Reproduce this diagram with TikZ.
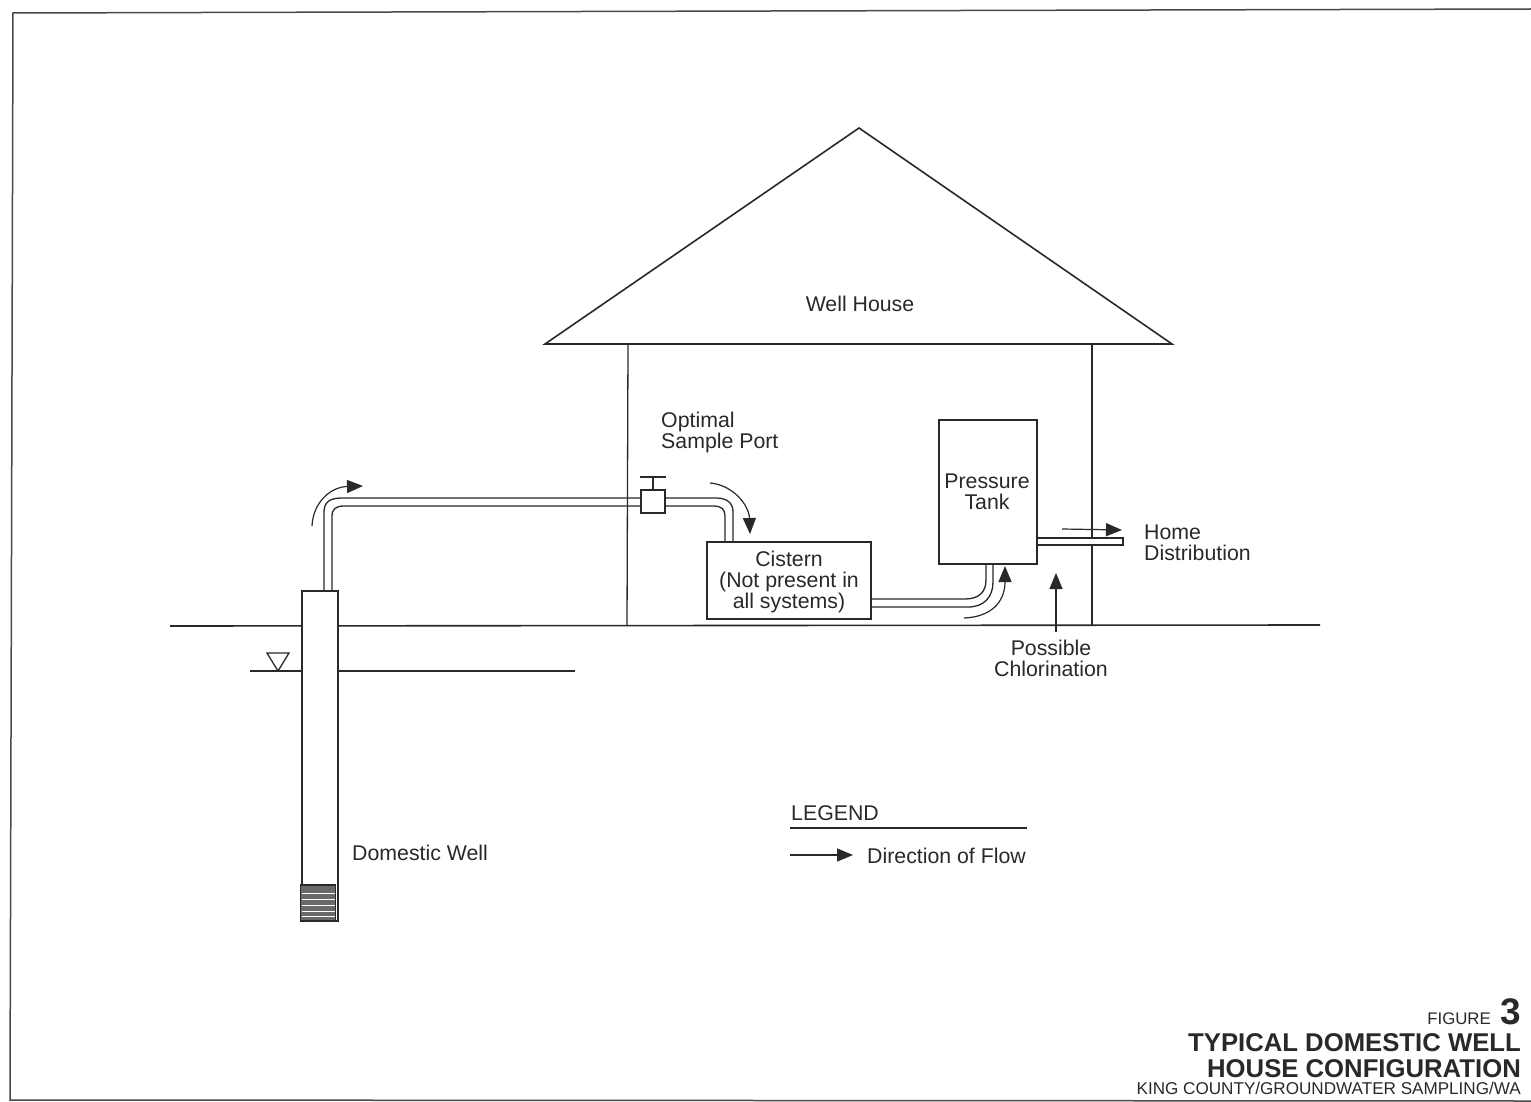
\documentclass[tikz,border=0pt]{standalone}
\usepackage{fontspec}
\setmainfont{Liberation Sans}
\usetikzlibrary{arrows.meta}
\definecolor{ink}{gray}{0.16}
\tikzset{
  ln/.style={draw=ink,line width=1.6pt},
  thin ln/.style={draw=ink,line width=1.3pt},
  flow/.style={draw=ink,line width=1.2pt,-{Triangle[length=16pt,width=13pt]}},
  lab/.style={text=ink,font=\fontsize{21.3}{22}\selectfont,align=center,inner sep=0pt},
  labl/.style={lab,anchor=west,align=left},
  box/.style={draw=ink,line width=1.3pt,fill=white,inner sep=0pt,outer sep=0pt,anchor=north west},
}
\begin{document}
\begin{tikzpicture}[x=1pt,y=-1pt]
\useasboundingbox (0,0) rectangle (1531,1102);
\fill[white] (0,0) rectangle (1531,1102);
% frame
\draw[draw=ink!85,line width=1.5pt] (1531,9) -- (13,13) -- (10,1100) -- (1531,1101);
% ground and water table
\coordinate (gL) at (170,626); \coordinate (gR) at (1320,625);
\coordinate (wL) at (250,671); \coordinate (wR) at (575,671);
\draw[ln] (gL) -- (gR);
\draw[thin ln] (wL) -- (wR);
\coordinate (tri1) at (267,653); \coordinate (tri2) at (289,653); \coordinate (tri3) at (278,671);
\draw[thin ln] (tri1) -- (tri2) -- (tri3) -- cycle;
% house
\coordinate (apex) at (859,128); \coordinate (eaveL) at (545,344); \coordinate (eaveR) at (1172,344);
\draw[ln,line join=miter] (eaveL) -- (apex) -- (eaveR) -- cycle;
\coordinate (wallLb) at (627,626); \coordinate (wallLt) at (628,344);
\coordinate (wallRb) at (1092,626); \coordinate (wallRt) at (1092,344);
\draw[thin ln] (wallLt) -- (wallLb);
\draw[thin ln] (wallRt) -- (wallRb);
% well
\node[box,minimum width=36pt,minimum height=330pt] (well) at (302,591) {};
\node[draw=ink,line width=1.4pt,fill=ink!70,inner sep=0pt,outer sep=0pt,anchor=north west,minimum width=35pt,minimum height=36pt] (screen) at (300.5,885) {};
\foreach \yy in {893,899,905,911,916}
  \draw[white,line width=1pt] (301.5,\yy) -- (335,\yy);
% cistern, tank, valve
\node[box,minimum width=164pt,minimum height=77pt] (cistern) at (707,542) {};
\node[box,minimum width=98pt,minimum height=144pt] (tank) at (939,420) {};
% pipes
\coordinate (p1a) at (324,591); \coordinate (p1b) at (332,591);
\coordinate (p2a) at (641,498); \coordinate (p2b) at (641,506);
\draw[thin ln] (p1a) -- (324,512) .. controls (324,502) and (330,498) .. (342,498) -- (p2a);
\draw[thin ln] (p1b) -- (332,516) .. controls (332,509) and (336,506) .. (344,506) -- (p2b);
\coordinate (p3a) at (665,498); \coordinate (p3b) at (665,506);
\coordinate (p4a) at (733,542); \coordinate (p4b) at (725,542);
\draw[thin ln] (p3a) -- (716,498) .. controls (727,498) and (733,503) .. (p4a |- 0,512) -- (p4a);
\draw[thin ln] (p3b) -- (714,506) .. controls (721,506) and (725,509) .. (p4b |- 0,516) -- (p4b);
\node[box,minimum width=24pt,minimum height=23pt] (valve) at (641,490) {};
\coordinate (stem) at (653,477); \coordinate (barL) at (640,477); \coordinate (barR) at (666,477);
\draw[thin ln] (valve.north) -- (stem);
\draw[ln] (barL) -- (barR);
\coordinate (p5a) at (871,599); \coordinate (p5b) at (871,607);
\coordinate (p6a) at (986,564); \coordinate (p6b) at (993,564);
\draw[thin ln] (p5a) -- (965,599) .. controls (979,599) and (986,592) .. (986,580) -- (p6a);
\draw[thin ln] (p5b) -- (968,607) .. controls (984,607) and (993,597) .. (993,582) -- (p6b);
\node[box,minimum width=86pt,minimum height=7pt] (home) at (1037,538) {};
% flow arrows
\coordinate (f1a) at (312,526); \coordinate (f1b) at (363,486);
\draw[flow] (f1a) .. controls (313,503) and (330,487) .. (f1b);
\coordinate (f2a) at (710,483); \coordinate (f2b) at (750,534);
\draw[flow] (f2a) .. controls (733,485) and (749,505) .. (f2b);
\coordinate (f3a) at (964,618); \coordinate (f3b) at (1005,566);
\draw[flow] (f3a) .. controls (990,617) and (1005,603) .. (f3b);
\coordinate (f4a) at (1062,529); \coordinate (f4b) at (1122,530);
\draw[flow] (f4a) -- (f4b);
\coordinate (f5a) at (1056,632); \coordinate (f5b) at (1056,573);
\draw[flow] (f5a) -- (f5b);
% labels
\node[lab] (lhouse) at (860,304) {Well House};
\node[labl] (lport) at (661,432.5) {Optimal\\[-1pt]Sample Port};
\node[lab] at (cistern.center) [yshift=-1pt] {Cistern\\[-1pt](Not present in\\[-1pt]all systems)};
\node[lab] at (987,492) {Pressure\\[-1pt]Tank};
\node[labl] (lhome) at (1144,543) {Home\\[-1pt]Distribution};
\node[lab] (lchlor) at (1051,658) {Possible\\[-1pt]Chlorination};
\node[labl] (lwell) at (352,853) {Domestic Well};
% legend
\node[labl] (llegend) at (791,813) {LEGEND};
\coordinate (legL) at (790,828); \coordinate (legR) at (1027,828);
\draw[thin ln] (legL) -- (legR);
\coordinate (legA) at (790,855); \coordinate (legB) at (853,855);
\draw[flow] (legA) -- (legB);
\node[labl] (lflow) at (867,856) {Direction of Flow};
% title block
\node[text=ink,inner sep=0pt,anchor=base east,font=\fontsize{16.8}{17}\selectfont] (tfig) at (1491,1024) {FIGURE};
\node[text=ink,inner sep=0pt,anchor=base east,font=\fontsize{37}{38}\selectfont\bfseries] (tnum) at (1521,1024) {3};
\node[text=ink,inner sep=0pt,anchor=base east,font=\fontsize{25.7}{26}\selectfont\bfseries] (t1) at (1521,1051) {TYPICAL DOMESTIC WELL};
\node[text=ink,inner sep=0pt,anchor=base east,font=\fontsize{25.7}{26}\selectfont\bfseries] (t2) at (1521,1077) {HOUSE CONFIGURATION};
\node[text=ink,inner sep=0pt,anchor=base east,font=\fontsize{17.1}{18}\selectfont] (t3) at (1521,1094) {KING COUNTY/GROUNDWATER SAMPLING/WA};
\end{tikzpicture}
\end{document}
